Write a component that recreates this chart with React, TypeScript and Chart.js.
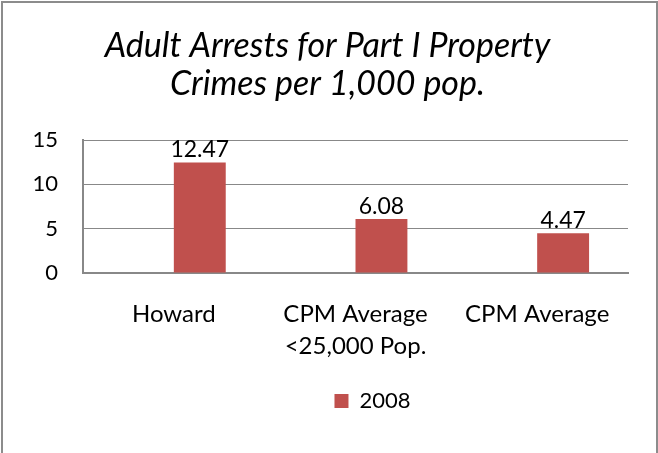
import React, { useEffect, useRef } from "react";
import { Chart, registerables } from "chart.js";

Chart.register(...registerables);

const categories: (string | string[])[] = ["Howard", ["CPM Average", "<25,000 Pop."], "CPM Average"];
const seriesLabel = "2008";
const values2008 = [12.47, 6.08, 4.47];
const emptySeries: (number | null)[] = [null, null, null];
const titleLines = ["Adult Arrests for Part I Property", "Crimes per 1,000 pop."];
const yMin = 0;
const yMax = 15;
const yStep = 5;

const FONT = "Lato";
const BAR_COLOR = "#C0504D";
const GRID_COLOR = "#888888";

const borderPlugin = {
  id: "frameBorder",
  beforeDraw(chart: any) {
    const ctx = chart.ctx;
    ctx.save();
    ctx.fillStyle = "#ffffff";
    ctx.fillRect(0, 0, chart.width, chart.height);
    ctx.strokeStyle = "#8c8c8c";
    ctx.lineWidth = 2;
    ctx.strokeRect(2, 2, 655, chart.height + 20);
    ctx.restore();
  },
};

const legendShiftPlugin = {
  id: "legendShift",
  afterLayout(chart: any) {
    const lg = chart.legend;
    if (!lg) return;
    const d = 45;
    lg.left += d;
    lg.right += d;
  },
};

const dataLabelPlugin = {
  id: "dataLabels",
  afterDatasetsDraw(chart: any) {
    const ctx = chart.ctx;
    const meta = chart.getDatasetMeta(1);
    const ds = chart.data.datasets[1];
    ctx.save();
    ctx.fillStyle = "#000000";
    ctx.font = `23px ${FONT}`;
    ctx.textAlign = "center";
    ctx.textBaseline = "alphabetic";
    meta.data.forEach((bar: any, i: number) => {
      const v = ds.data[i];
      if (v == null) return;
      ctx.fillText(Number(v).toFixed(2), bar.x, bar.y - 5);
    });
    ctx.restore();
  },
};

export default function App() {
  const canvasRef = useRef<HTMLCanvasElement | null>(null);

  useEffect(() => {
    document.body.style.margin = "0";
    const canvas = canvasRef.current;
    if (!canvas) return;
    const chart = new Chart(canvas, {
      type: "bar",
      data: {
        labels: categories as any,
        datasets: [
          {
            label: "",
            data: emptySeries,
            backgroundColor: BAR_COLOR,
          },
          {
            label: seriesLabel,
            data: values2008,
            backgroundColor: BAR_COLOR,
          },
        ],
      },
      options: {
        animation: false,
        responsive: false,
        maintainAspectRatio: false,
        layout: { padding: { left: 27, right: 30, top: 0, bottom: 31 } },
        datasets: {
          bar: { barPercentage: 1, categoryPercentage: 2 / 3.5 },
        },
        plugins: {
          title: {
            display: true,
            text: titleLines,
            color: "#000000",
            font: { family: FONT, size: 34, style: "italic", weight: "normal", lineHeight: 38 / 34 },
            padding: { top: 27, bottom: 37 },
          },
          legend: {
            display: true,
            position: "bottom",
            labels: {
              color: "#000000",
              font: { family: FONT, size: 22 },
              boxWidth: 14,
              boxHeight: 14,
              padding: 2,
              filter: (item: any) => item.text !== "",
            },
          },
          tooltip: { enabled: false },
        },
        scales: {
          x: {
            grid: { display: false, drawTicks: false },
            border: { display: true, color: GRID_COLOR, width: 2 },
            ticks: {
              color: "#000000",
              font: { family: FONT, size: 24, lineHeight: 32 / 24 },
              padding: 25,
              maxRotation: 0,
              autoSkip: false,
            },
            afterFit(scale: any) {
              scale.height = scale.height + 1;
            },
          },
          y: {
            min: yMin,
            max: yMax,
            grid: { color: GRID_COLOR, lineWidth: 1, drawTicks: false },
            border: { display: true, color: GRID_COLOR, width: 2 },
            ticks: {
              stepSize: yStep,
              color: "#000000",
              font: { family: FONT, size: 22 },
              padding: 25,
            },
            afterFit(scale: any) {
              scale.width = 56;
            },
          },
        },
      },
      plugins: [borderPlugin, legendShiftPlugin, dataLabelPlugin],
    });
    return () => chart.destroy();
  }, []);

  return (
    <div style={{ width: 658, height: 453, position: "relative" }}>
      <canvas ref={canvasRef} width={658} height={453} />
    </div>
  );
}
